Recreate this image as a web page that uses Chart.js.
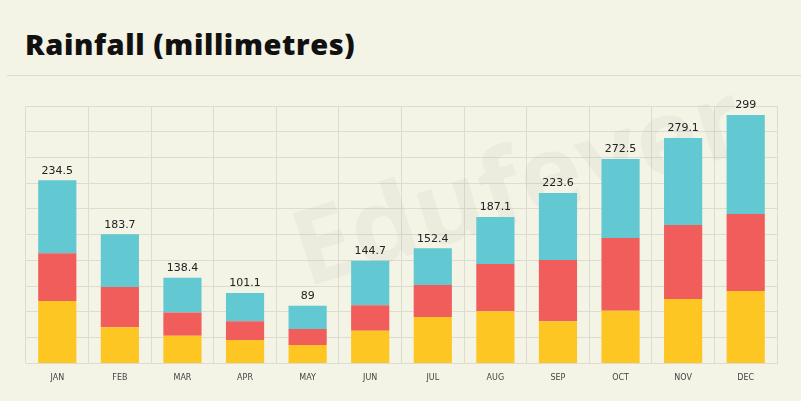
<!DOCTYPE html>
<html>
<head>
<meta charset="utf-8">
<script src="https://cdn.jsdelivr.net/npm/chart.js@4"></script>
<style>
  html, body { margin: 0; padding: 0; background: #f3f3e6; }
  #wrap { position: relative; width: 801px; height: 401px; overflow: hidden; }
  #titre { position: absolute; left: 25px; top: 24px; font-family: "Open Sans", sans-serif; font-weight: 800; font-size: 29px; color: #111; letter-spacing: 0.6px; }
  #trait { position: absolute; left: 7px; right: 0; top: 75px; height: 1px; background: #dcdcd0; }
  #graf { position: absolute; left: 0; top: 0; }
</style>
</head>
<body>
<div id="wrap">
  <div id="titre">Rainfall (millimetres)</div>
  <div id="trait"></div>
  <canvas id="graf" width="801" height="401"></canvas>
</div>
<script>
// Mois
const mois = ['JAN', 'FEB', 'MAR', 'APR', 'MAY', 'JUN', 'JUL', 'AUG', 'SEP', 'OCT', 'NOV', 'DEC'];
// Segments
const segJaune = [79.9, 46.2, 35.4, 29.9, 23.5, 41.8, 59.4, 66.7, 53.9, 67.5, 82.5, 92.7];
const segRouge = [61.2, 51.7, 30.0, 24.0, 20.5, 32.6, 41.0, 60.7, 78.6, 93.2, 94.9, 98.8];
const segCyan = [93.6, 67.6, 44.4, 36.3, 29.9, 57.2, 47.1, 60.3, 85.9, 101.3, 111.6, 127.0];
// Totaux affichés au-dessus des barres
const totaux = ['234.5', '183.7', '138.4', '101.1', '89', '144.7', '152.4', '187.1', '223.6', '272.5', '279.1', '299'];

// filigrane + totaux
const extras = {
  id: 'extras',
  beforeDatasetsDraw(chart) {
    const ctx = chart.ctx;
    ctx.save();
    ctx.translate(520, 190);
    ctx.rotate(-0.3);
    ctx.font = 'bold 105px "Open Sans", sans-serif';
    ctx.fillStyle = 'rgba(0,0,0,0.03)';
    ctx.textAlign = 'center';
    ctx.textBaseline = 'middle';
    ctx.fillText('Edufever', 0, 0);
    ctx.restore();
  },
  afterDatasetsDraw(chart) {
    const ctx = chart.ctx;
    const meta = chart.getDatasetMeta(2);
    ctx.save();
    ctx.font = '11px "DejaVu Sans", sans-serif';
    ctx.fillStyle = '#222';
    ctx.textAlign = 'center';
    ctx.textBaseline = 'bottom';
    meta.data.forEach((bar, i) => {
      ctx.fillText(totaux[i], bar.x, bar.y - 4);
    });
    ctx.restore();
  }
};

const config = {
  type: 'bar',
  data: {
    labels: mois,
    datasets: [
      { data: segJaune, backgroundColor: '#fec623' },
      { data: segRouge, backgroundColor: '#f05d5b' },
      { data: segCyan, backgroundColor: '#62c8d1' }
    ]
  },
  options: {
    responsive: false,
    animation: false,
    barPercentage: 0.61,
    categoryPercentage: 1,
    layout: { padding: { left: 26, right: 24, top: 106, bottom: 8 } },
    plugins: { legend: { display: false }, tooltip: { enabled: false } },
    scales: {
      x: {
        stacked: true,
        grid: { color: '#dedcd0', drawTicks: false },
        border: { color: '#dedcd0' },
        ticks: { color: '#444', font: { size: 8, family: '"DejaVu Sans", sans-serif' }, padding: 10 }
      },
      y: {
        stacked: true,
        min: 0,
        max: 330,
        ticks: { display: false, stepSize: 33 },
        grid: { color: '#dedcd0', drawTicks: false },
        border: { display: false }
      }
    }
  },
  plugins: [extras]
};

window.onload = function() {
  const ctx = document.getElementById('graf').getContext('2d');
  new Chart(ctx, config);
};
</script>
</body>
</html>
